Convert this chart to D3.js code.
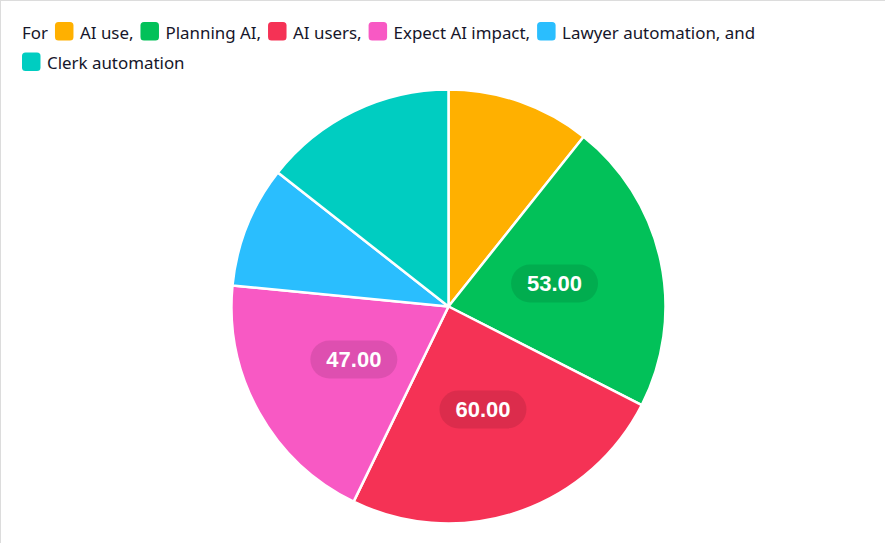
<!DOCTYPE html>
<html>
<head>
<meta charset="utf-8">
<script src="https://cdn.jsdelivr.net/npm/d3@7"></script>
<style>
  html, body { margin: 0; padding: 0; background: #fff; }
  svg { display: block; }
</style>
</head>
<body>
<div id="chart-container"></div>
<script>
const categories = ["AI use", "Planning AI", "AI users", "Expect AI impact", "Lawyer automation", "Clerk automation"];
const values = [26, 53, 60, 47, 22, 35];
const colors = ["#FFB000", "#02C159", "#F53255", "#F859C4", "#2ABEFE", "#00CDC1"];
const labelledSlices = ["Planning AI", "AI users", "Expect AI impact"];

const svgWidth = 885;
const svgHeight = 543;
const cx = 448.5, cy = 306.5, radius = 217;

const svg = d3.select("#chart-container")
    .append("svg")
    .attr("width", svgWidth)
    .attr("height", svgHeight);

// faint frame along top and left edge
svg.append("line").attr("x1", 0).attr("x2", svgWidth).attr("y1", 0.5).attr("y2", 0.5)
    .attr("stroke", "#dcdcdc").attr("stroke-width", 1);
svg.append("line").attr("x1", 0.5).attr("x2", 0.5).attr("y1", 0).attr("y2", svgHeight)
    .attr("stroke", "#dcdcdc").attr("stroke-width", 1);

const data = categories.map((c, i) => ({ name: c, value: values[i], color: colors[i] }));

// legend, wrapped by measured width
const legend = svg.append("g")
    .attr("font-family", "'Segoe UI', 'Noto Sans', sans-serif")
    .attr("font-size", "16.9px")
    .attr("fill", "#16162a");

const startX = 22, maxX = 860, lineH = 30.5;
let x = startX, y = 38.5;

function addText(str) {
    const t = legend.append("text").attr("x", x).attr("y", y).text(str);
    let w = t.node().getComputedTextLength();
    x += w;
}

addText("For");
x += 7;
data.forEach((d, i) => {
    let suffix = i === data.length - 2 ? ", and" : (i === data.length - 1 ? "" : ",");
    const label = d.name + suffix;
    const tmp = legend.append("text").text(label);
    const w = tmp.node().getComputedTextLength();
    tmp.remove();
    if (x + 25 + w > maxX) { x = startX; y += lineH; }
    legend.append("rect")
        .attr("x", x).attr("y", y - 16.5)
        .attr("width", 18.5).attr("height", 18.5)
        .attr("rx", 3.5)
        .attr("fill", d.color);
    x += 25;
    legend.append("text").attr("x", x).attr("y", y).text(label);
    x += w + 7;
});

// pie
const pie = d3.pie().value(d => d.value).sort(null);
const arc = d3.arc().innerRadius(0).outerRadius(radius);
const labelArc = d3.arc().innerRadius(radius / 2).outerRadius(radius / 2);

const g = svg.append("g").attr("transform", `translate(${cx},${cy})`);
const arcs = pie(data);

g.selectAll("path.slice")
    .data(arcs)
    .enter()
    .append("path")
    .attr("class", "slice")
    .attr("d", arc)
    .attr("fill", d => d.data.color)
    .attr("stroke", "#fff")
    .attr("stroke-width", 2.5)
    .attr("stroke-linejoin", "round");

const labels = g.selectAll("g.lbl")
    .data(arcs.filter(d => labelledSlices.includes(d.data.name)))
    .enter()
    .append("g")
    .attr("class", "lbl")
    .attr("transform", d => `translate(${labelArc.centroid(d)})`);

labels.append("rect")
    .attr("x", -43.5).attr("y", -19)
    .attr("width", 87).attr("height", 38)
    .attr("rx", 19)
    .attr("fill", "rgba(0,0,0,0.1)");

labels.append("text")
    .attr("text-anchor", "middle")
    .attr("dy", "0.36em")
    .attr("font-family", "'Liberation Sans', Arial, sans-serif")
    .attr("font-weight", "bold")
    .attr("font-size", "22px")
    .attr("fill", "#fff")
    .text(d => d.data.value.toFixed(2));
</script>
</body>
</html>
